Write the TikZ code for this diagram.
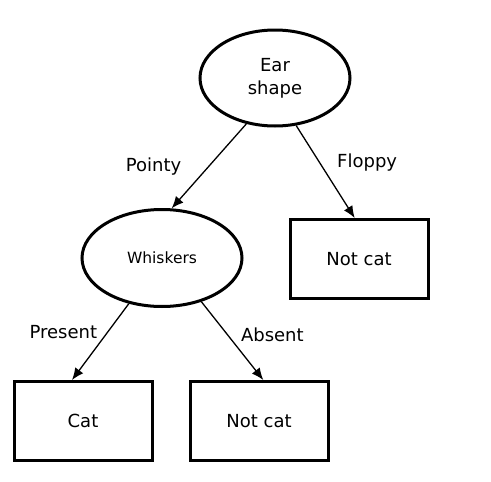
\documentclass[tikz,border=0pt]{standalone}
\usepackage{fontspec}
\setmainfont{DejaVu Sans}
\usepackage{tikz}
\usetikzlibrary{shapes,arrows.meta}
\tikzstyle{test} = [ellipse, draw, line width=3pt, inner sep=0pt,
minimum width=150pt, minimum height=96pt, align=center]
\tikzstyle{leaf} = [rectangle, draw, line width=3pt, inner sep=0pt,
minimum width=138pt, minimum height=79pt, font=\fontsize{18}{22}\selectfont]
\tikzstyle{line} = [draw, line width=1.3pt, -{Latex[length=12pt,width=10pt]}]
\tikzstyle{lbl} = [inner sep=0pt, font=\fontsize{18}{22}\selectfont]

\begin{document}
\begin{tikzpicture}[x=1pt, y=-1pt]
\useasboundingbox (0,0) rectangle (491,482);
% Place nodes
\node [test, font=\fontsize{18}{23}\selectfont] (ear) at (275,78) {Ear\\shape};
\node [test, minimum width=160pt, minimum height=97pt, font=\fontsize{15.5}{19}\selectfont] (whiskers) at (162,258) {Whiskers};
\node [leaf] (floppy) at (359,259) {Not cat};
\node [leaf] (cat) at (83,421) {Cat};
\node [leaf] (absent) at (259,421) {Not cat};
% Draw edges
\path [line] (ear.238) -- node [lbl, midway, left=27pt] {Pointy} (whiskers.79);
\path [line] (ear.294) -- node [lbl, pos=.4, right=17pt] {Floppy} (floppy.96);
\path [line] (whiskers.234) -- node [lbl, pos=.37, left=10pt] {Present} (cat.105);
\path [line] (whiskers.312) -- node [lbl, pos=.42, right=13pt] {Absent} (absent.84);
\end{tikzpicture}
\end{document}
